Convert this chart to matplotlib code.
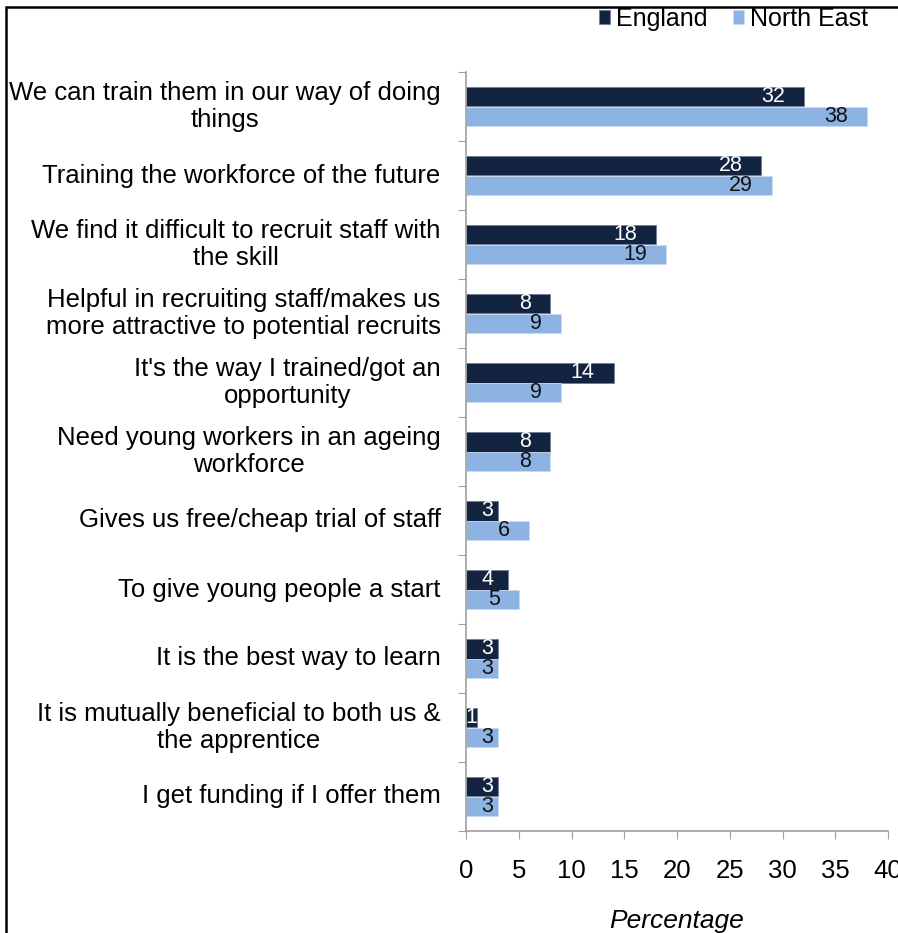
import numpy as np
import matplotlib.pyplot as plt
from matplotlib.patches import Rectangle

plt.rcParams['font.family'] = ['Liberation Sans', 'DejaVu Sans']

# Reasons for offering apprenticeships, top to bottom
reasons = [
    "We can train them in our way of doing\nthings",
    "Training the workforce of the future",
    "We find it difficult to recruit staff with\nthe skill",
    "Helpful in recruiting staff/makes us\nmore attractive to potential recruits",
    "It's the way I trained/got an\nopportunity",
    "Need young workers in an ageing\nworkforce",
    "Gives us free/cheap trial of staff",
    "To give young people a start",
    "It is the best way to learn",
    "It is mutually beneficial to both us &\nthe apprentice",
    "I get funding if I offer them",
]
england = [32, 28, 18, 8, 14, 8, 3, 4, 3, 1, 3]
north_east = [38, 29, 19, 9, 9, 8, 6, 5, 3, 3, 3]

eng_color = '#12243F'
ne_color = '#8DB3E2'
axis_color = '#A0A0A0'

fig = plt.figure(figsize=(8.98, 9.33), dpi=100)
ax = fig.add_axes([466 / 898, 1 - 831 / 933, 422 / 898, (831 - 72) / 933])

y = np.arange(len(reasons))
h = 0.28
ax.barh(y - h / 2, england, height=h, color=eng_color,
        edgecolor='#6F7F96', linewidth=0.6, label='England')
ax.barh(y + h / 2, north_east, height=h, color=ne_color,
        edgecolor='#C9DAF0', linewidth=0.6, label='North East')

# value labels sit just inside the bar end, short bars get them near the axis
def label_bars(vals, ypos, color):
    for v, yy in zip(vals, ypos):
        if v < 2.5:
            ax.text(v / 2, yy, str(v), ha='center', va='center',
                    fontsize=15.5, color=color)
        elif v < 5:
            ax.text(2.0, yy, str(v), ha='center', va='center',
                    fontsize=15.5, color=color)
        else:
            ax.text(v - 1.8, yy, str(v), ha='right', va='center',
                    fontsize=15.5, color=color)

label_bars(england, y - h / 2, 'white')
label_bars(north_east, y + h / 2, '#111111')

ax.set_xlim(0, 40)
ax.set_ylim(len(reasons) - 0.5, -0.5)
ax.set_xticks(np.arange(0, 41, 5))
ax.tick_params(axis='x', labelsize=18.5, length=6, color=axis_color,
               direction='out', pad=14)

# category labels, ticks at the boundaries between groups
ax.set_yticks(np.arange(-0.5, len(reasons), 1.0))
ax.set_yticklabels([])
ax.tick_params(axis='y', length=6, color=axis_color, direction='out')
for yy, txt in zip(y, reasons):
    ax.text(-2.4, yy, txt, ha='right', va='center', multialignment='center',
            fontsize=18.5, linespacing=1.18, color='black')

for side in ['top', 'right']:
    ax.spines[side].set_visible(False)
for side in ['left', 'bottom']:
    ax.spines[side].set_color(axis_color)
    ax.spines[side].set_linewidth(1.2)

ax.set_xlabel('Percentage', fontsize=19, style='italic', labelpad=19)

ax.legend(loc='upper right', bbox_to_anchor=(868 / 898, 1 - 7 / 933),
          bbox_transform=fig.transFigure, ncol=2, frameon=False,
          fontsize=18, handlelength=0.45, handleheight=0.45,
          handletextpad=0.25, columnspacing=1.0, borderpad=0,
          borderaxespad=0)

# outer frame of the chart area
fig.patches.append(Rectangle((6 / 898, -0.1), 1.2, 1.1 - 7 / 933,
                             transform=fig.transFigure, fill=False,
                             edgecolor='black', linewidth=1.8))

fig.savefig('out.png', dpi=100)
